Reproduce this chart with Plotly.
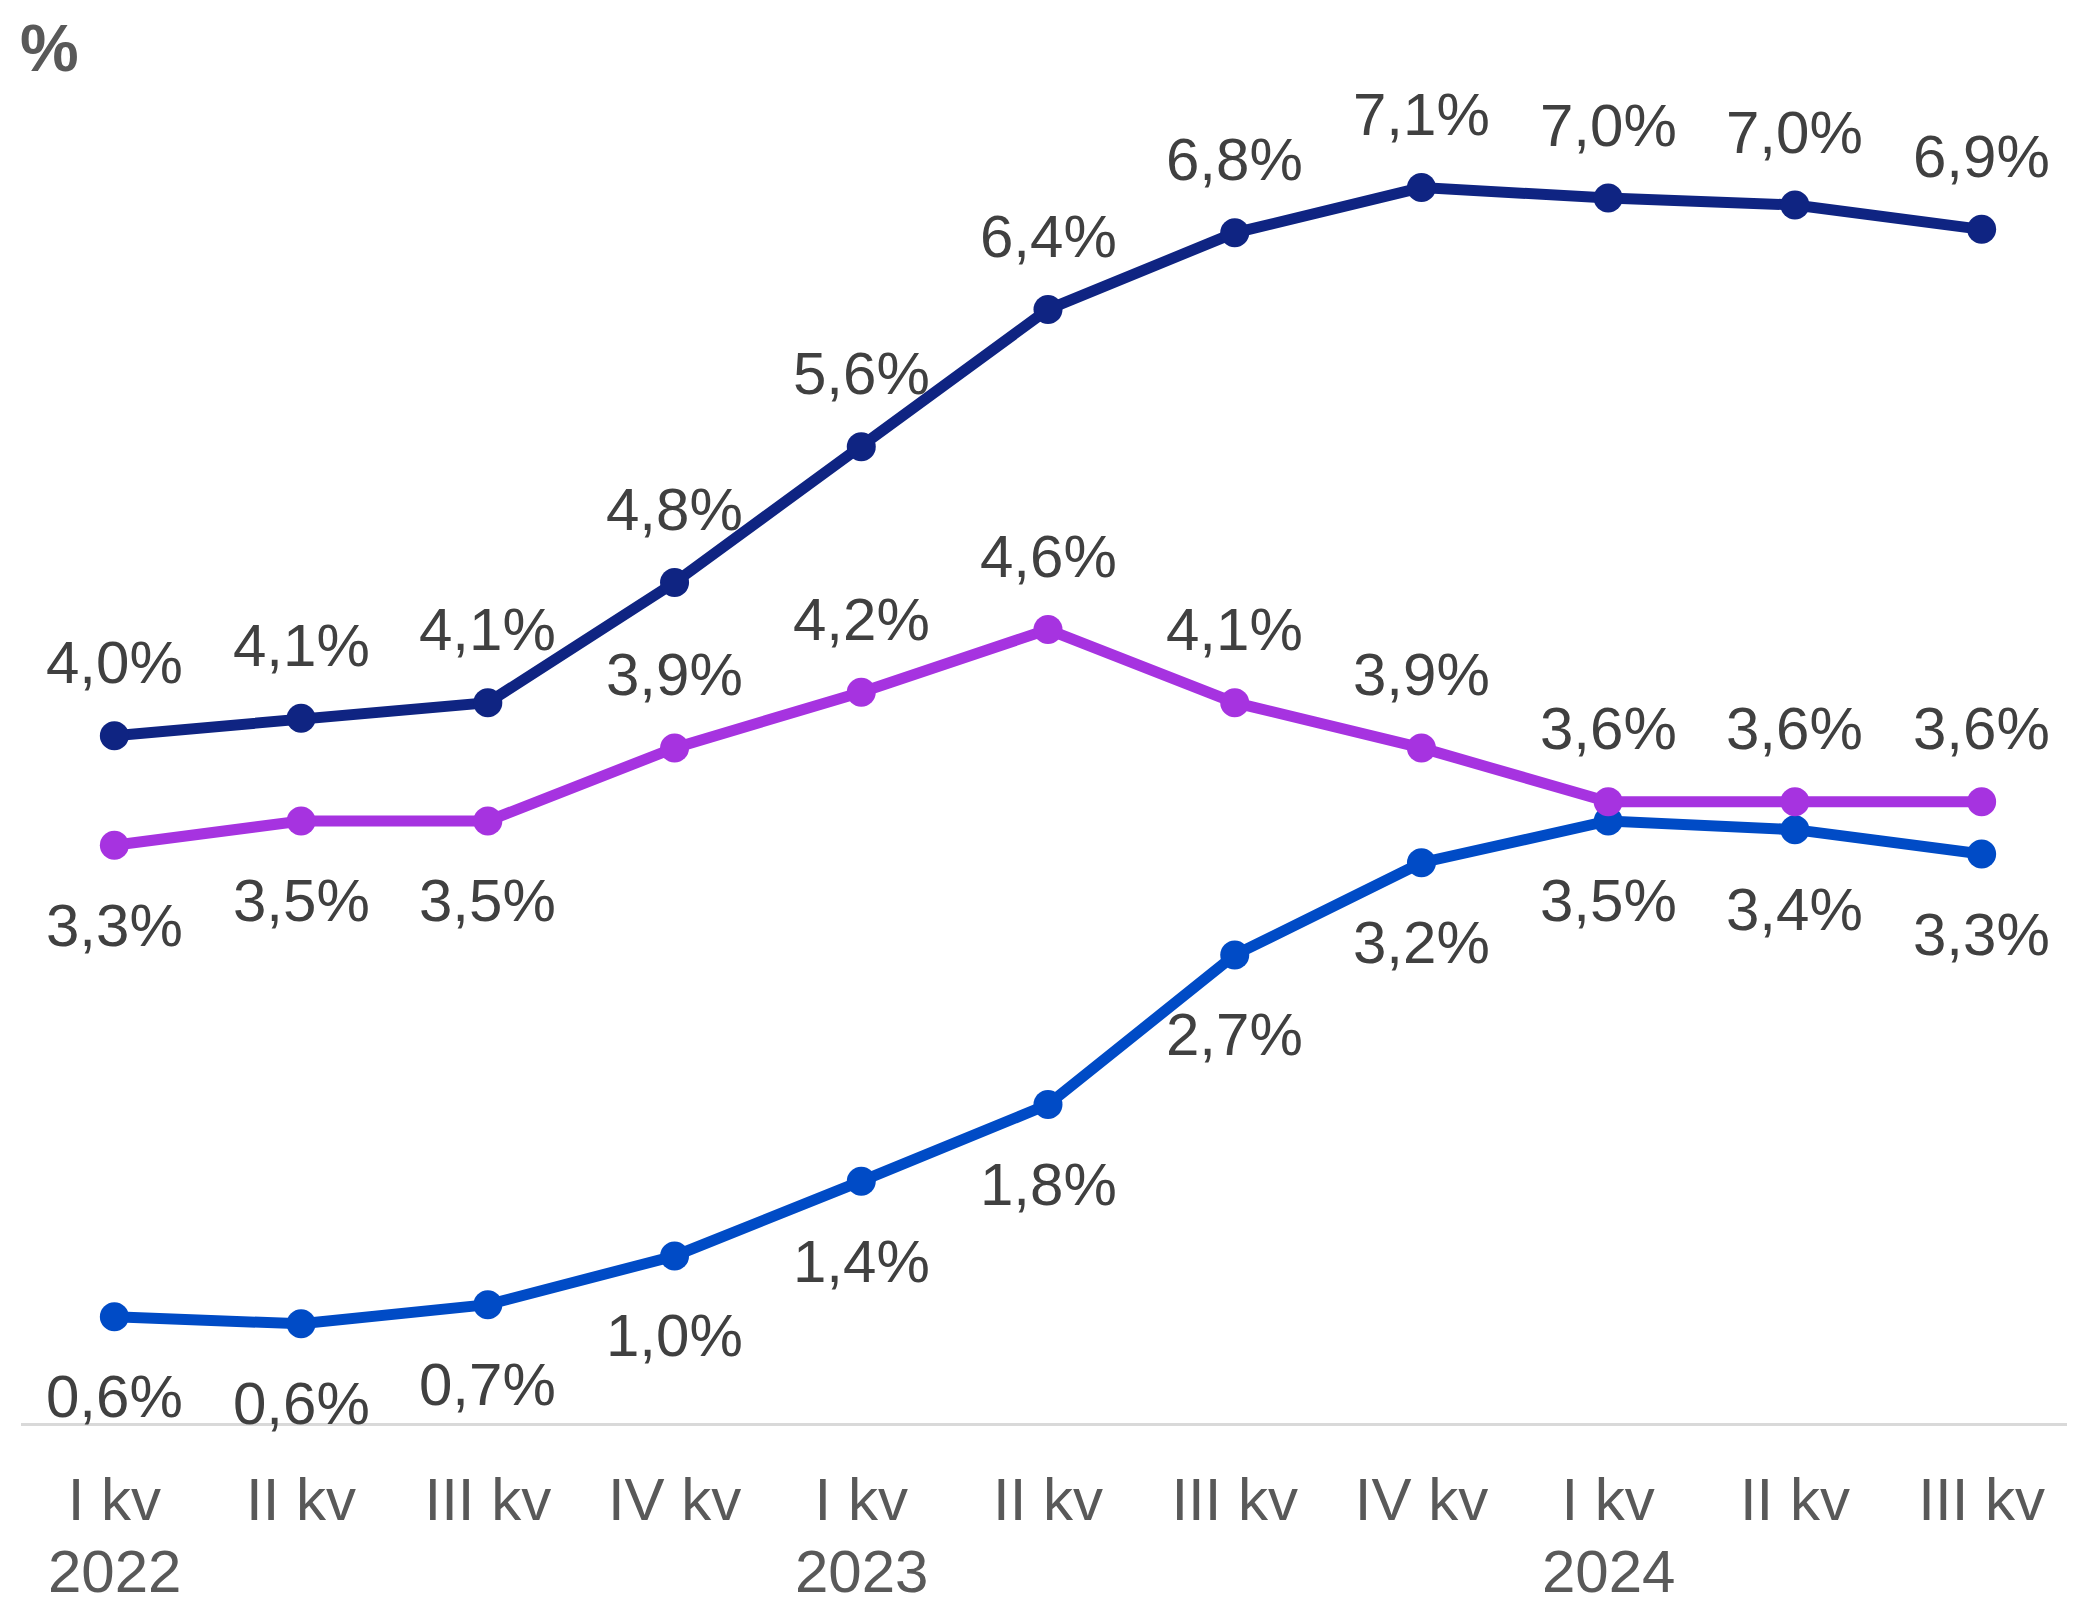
import plotly.graph_objects as go

# quarters on the x axis
periods = ["2022 I", "2022 II", "2022 III", "2022 IV",
           "2023 I", "2023 II", "2023 III", "2023 IV",
           "2024 I", "2024 II", "2024 III"]
quarter_text = ["I kv", "II kv", "III kv", "IV kv",
                "I kv", "II kv", "III kv", "IV kv",
                "I kv", "II kv", "III kv"]
year_text = {"2022 I": "2022", "2023 I": "2023", "2024 I": "2024"}

# values (%)
navy_vals = [3.95, 4.05, 4.14, 4.83, 5.61, 6.40, 6.84, 7.10, 7.04, 7.00, 6.86]
purple_vals = [3.32, 3.46, 3.46, 3.88, 4.20, 4.56, 4.14, 3.88, 3.57, 3.57, 3.57]
blue_vals = [0.61, 0.57, 0.68, 0.96, 1.39, 1.83, 2.69, 3.22, 3.46, 3.41, 3.27]

navy_labels = ["4,0%", "4,1%", "4,1%", "4,8%", "5,6%", "6,4%", "6,8%", "7,1%", "7,0%", "7,0%", "6,9%"]
purple_labels = ["3,3%", "3,5%", "3,5%", "3,9%", "4,2%", "4,6%", "4,1%", "3,9%", "3,6%", "3,6%", "3,6%"]
blue_labels = ["0,6%", "0,6%", "0,7%", "1,0%", "1,4%", "1,8%", "2,7%", "3,2%", "3,5%", "3,4%", "3,3%"]

NAVY = "#0F2482"
PURPLE = "#A633E0"
BLUE = "#004BC6"
LABEL = "#404040"
TICK = "#595959"
FONT = "Liberation Sans, Arial, sans-serif"

ABOVE, BELOW = 73, -80

fig = go.Figure()
series = [
    (blue_vals, BLUE, blue_labels, [BELOW] * 11),
    (purple_vals, PURPLE, purple_labels, [BELOW] * 3 + [ABOVE] * 8),
    (navy_vals, NAVY, navy_labels, [ABOVE] * 11),
]
for vals, color, labels, shifts in series:
    fig.add_trace(go.Scatter(
        x=periods, y=vals, mode="lines+markers",
        line=dict(color=color, width=11),
        marker=dict(color=color, size=29),
        showlegend=False, hoverinfo="skip",
    ))
    for p, v, t, s in zip(periods, vals, labels, shifts):
        fig.add_annotation(x=p, y=v, text=t, showarrow=False, yshift=s,
                           xanchor="center", yanchor="middle",
                           font=dict(size=60, color=LABEL, family=FONT))

# year row under the quarter labels
for p, yr in year_text.items():
    fig.add_annotation(x=p, xref="x", y=-0.107, yref="paper", text=yr,
                       showarrow=False, yanchor="middle",
                       font=dict(size=60, color=TICK, family=FONT))

# unit marker top-left
fig.add_annotation(x=0, xref="paper", y=1, yref="paper", text="<b>%</b>",
                   showarrow=False, xanchor="left", yanchor="middle",
                   xshift=-3, yshift=-17,
                   font=dict(size=66, color=TICK, family=FONT))

# page body has an 8px margin, so the margins are shifted to compensate
fig.update_layout(
    width=2075, height=1598,
    paper_bgcolor="white", plot_bgcolor="white",
    margin=dict(l=13, r=8, t=23, b=183),
    font=dict(family=FONT),
)
fig.update_xaxes(
    type="category", range=[-0.5, 10.5],
    tickvals=periods, ticktext=quarter_text,
    tickfont=dict(size=60, color=TICK, family=FONT),
    showline=True, linecolor="#D9D9D9", linewidth=3,
    showgrid=False, zeroline=False,
    ticks="outside", ticklen=22, tickcolor="rgba(0,0,0,0)",
)
fig.update_yaxes(range=[0, 8], visible=False, showgrid=False, zeroline=False)

fig.write_html("out.html")
